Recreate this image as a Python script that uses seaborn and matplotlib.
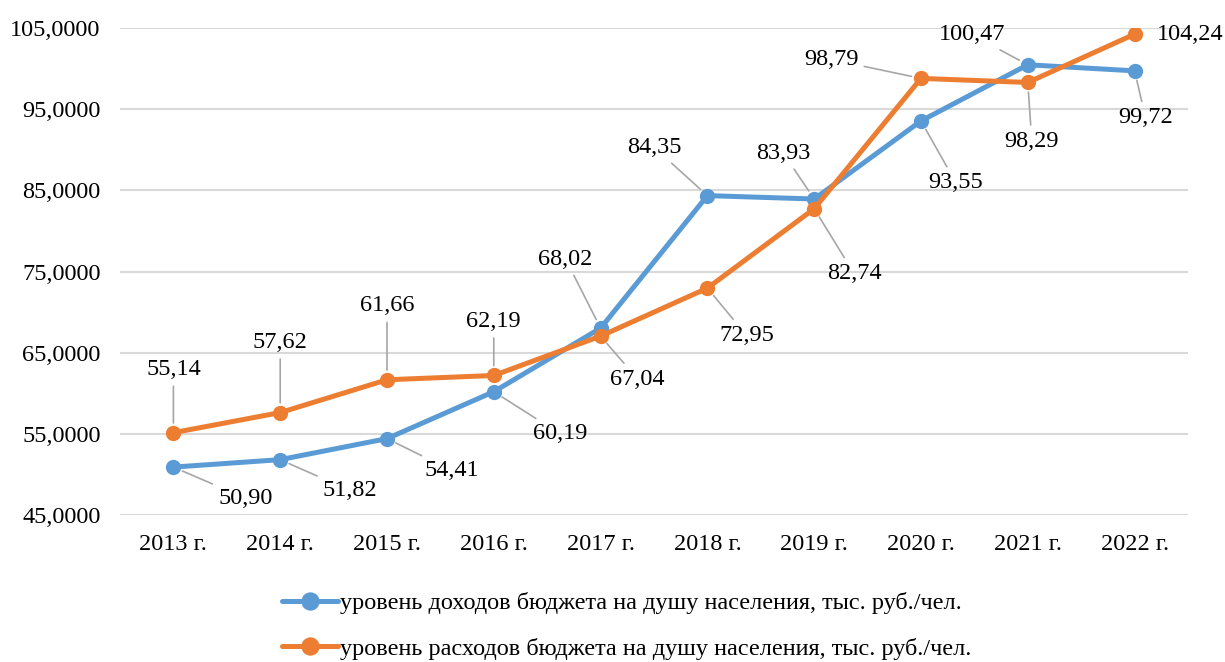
import matplotlib
matplotlib.use("Agg")
import matplotlib.pyplot as plt
import seaborn as sns
import pandas as pd
from matplotlib.ticker import FuncFormatter

# ── данные ───────────────────────────────────────────────────────────────────
years = ["2013 г.", "2014 г.", "2015 г.", "2016 г.", "2017 г.",
         "2018 г.", "2019 г.", "2020 г.", "2021 г.", "2022 г."]
income = [50.90, 51.82, 54.41, 60.19, 68.02, 84.35, 83.93, 93.55, 100.47, 99.72]
expense = [55.14, 57.62, 61.66, 62.19, 67.04, 72.95, 82.74, 98.79, 98.29, 104.24]
name_inc = "уровень доходов бюджета на душу населения, тыс. руб./чел."
name_exp = "уровень расходов бюджета на душу населения, тыс. руб./чел."

# смещения подписей (пиксели, вниз = +)
off_inc = [(72, 31), (70, 31), (65, 32), (66, 42), (-35, -69),
           (-53, -48), (-31, -46), (35, 62), (-56, -30), (11, 47)]
off_exp = [(0, -63), (0, -70), (0, -74), (0, -54), (37, 43),
           (39, 47), (40, 65), (-90, -19), (4, 59), (56, 0)]

BLUE = "#5B9BD5"
ORANGE = "#ED7D31"
FS = 17.5

df = pd.DataFrame({
    "year": years * 2,
    "value": income + expense,
    "series": [name_inc] * len(years) + [name_exp] * len(years),
})

sns.set_style("white")
plt.rcParams["font.family"] = ["Liberation Serif", "DejaVu Serif"]
plt.rcParams["font.size"] = FS
plt.rcParams["text.color"] = "black"

fig = plt.figure(figsize=(12.25, 6.62), dpi=100)
ax = fig.add_axes([120 / 1225, 1 - 515 / 662, 1068 / 1225, 487 / 662])

sns.lineplot(data=df, x="year", y="value", hue="series",
             palette=[BLUE, ORANGE], marker="o", markersize=11,
             markeredgewidth=0, linewidth=3.6, ax=ax, legend=True)

ax.set_xlim(-0.5, len(years) - 0.5)
ax.set_ylim(45, 105)
ax.set_yticks(range(45, 106, 10))
ax.yaxis.set_major_formatter(FuncFormatter(lambda v, p: f"{v:.4f}".replace(".", ",")))
ax.grid(axis="y", color="#d9d9d9", linewidth=1.5)
ax.set_axisbelow(True)
for s in ax.spines.values():
    s.set_visible(False)
ax.tick_params(axis="both", length=0, labelsize=FS, colors="black")
ax.tick_params(axis="x", pad=14)
ax.tick_params(axis="y", pad=14)
ax.set_xlabel("")
ax.set_ylabel("")


def put_labels(vals, offs):
    for i, (v, (dx, dy)) in enumerate(zip(vals, offs)):
        txt = f"{v:.2f}".replace(".", ",")
        arrow = None
        if abs(dy) > 5:
            arrow = dict(arrowstyle="-", color="#a6a6a6", lw=1.2,
                         shrinkA=2, shrinkB=7)
        ax.annotate(txt, xy=(i, v), xytext=(dx, -dy), textcoords="offset pixels",
                    ha="center", va="center", fontsize=FS, color="black",
                    arrowprops=arrow, zorder=5)


put_labels(income, off_inc)
put_labels(expense, off_exp)

handles, labels = ax.get_legend_handles_labels()
ax.get_legend().remove()
fig.legend(handles, labels, loc="center", bbox_to_anchor=(627 / 1225, 1 - 626 / 662),
           ncol=1, frameon=False, fontsize=FS, handlelength=2.3,
           handletextpad=0.1, labelspacing=0.95, markerscale=1.2,
           labelcolor="black")

fig.savefig("out.png", dpi=100)
